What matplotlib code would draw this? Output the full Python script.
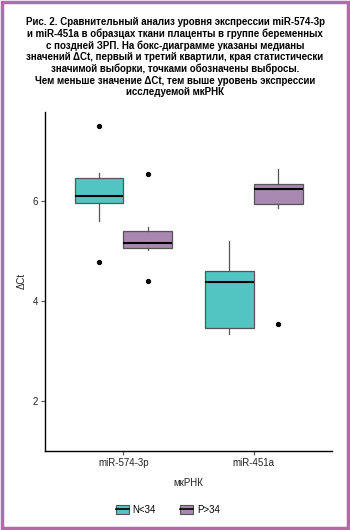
import matplotlib
matplotlib.use("Agg")
import matplotlib.pyplot as plt
from matplotlib.patches import Patch, Rectangle
from matplotlib.lines import Line2D
from matplotlib.legend_handler import HandlerTuple

plt.rcParams['font.family'] = ['Liberation Sans', 'DejaVu Sans']

# data
categories = ["miR-574-3p", "miR-451a"]
groups = ["N<34", "P>34"]
colors = ["#52c5c3", "#a887b0"]

# order: (miR-574-3p N, miR-574-3p P, miR-451a N, miR-451a P)
q1 = [5.95, 5.05, 3.46, 5.93]
med = [6.10, 5.16, 4.37, 6.23]
q3 = [6.45, 5.40, 4.59, 6.34]
whislo = [5.60, 5.01, 3.33, 5.86]
whishi = [6.56, 5.48, 5.20, 6.63]
fliers = [[7.50, 4.78], [6.53, 4.39], [], [3.53]]

title = ("Рис. 2. Сравнительный анализ уровня экспрессии miR-574-3p\n"
         "и miR-451a в образцах ткани плаценты в группе беременных\n"
         "с поздней ЗРП. На бокс-диаграмме указаны медианы\n"
         "значений ΔCt, первый и третий квартили, края статистически\n"
         "значимой выборки, точками обозначены выбросы.\n"
         "Чем меньше значение ΔCt, тем выше уровень экспрессии\n"
         "исследуемой мкРНК")

fig = plt.figure(figsize=(3.5, 5.3), dpi=100)
ax = fig.add_axes([0.129, 0.149, 0.82, 0.64])

stats = []
positions = []
box_colors = []
for i in range(len(categories)):
    for j in range(len(groups)):
        k = i * len(groups) + j
        stats.append(dict(med=med[k], q1=q1[k], q3=q3[k],
                          whislo=whislo[k], whishi=whishi[k], fliers=fliers[k]))
        positions.append(i + 1 + (j - 0.5) * 0.375)
        box_colors.append(colors[j])

bp = ax.bxp(stats, positions=positions, widths=0.375, patch_artist=True,
            showcaps=False,
            boxprops=dict(edgecolor="#555555", linewidth=0.9),
            whiskerprops=dict(color="#555555", linewidth=0.9),
            medianprops=dict(color="black", linewidth=1.5),
            flierprops=dict(marker="o", markerfacecolor="black",
                            markeredgecolor="black", markersize=2.8))
for patch, c in zip(bp["boxes"], box_colors):
    patch.set_facecolor(c)

ax.set_xlim(0.4, 2.6)
ax.set_ylim(1.0, 7.78)
ax.set_xticks([1, 2])
ax.set_xticklabels(categories)
ax.set_yticks([2, 4, 6])
for s in ["top", "right"]:
    ax.spines[s].set_visible(False)
for s in ["left", "bottom"]:
    ax.spines[s].set_linewidth(1.0)
ax.tick_params(axis="both", labelsize=7, length=3, color="#555555",
               labelcolor="#222222", pad=2)
ax.set_ylabel("ΔCt", fontsize=7, color="#222222", labelpad=4)
ax.set_xlabel("мкРНК", fontsize=7, color="#222222", labelpad=7)

handles = []
for c in colors:
    handles.append((Patch(facecolor=c, edgecolor="#555555", linewidth=0.8),
                    Line2D([], [], color="black", linewidth=1.2)))
ax.legend(handles, groups, handler_map={tuple: HandlerTuple(ndivide=1, pad=0)},
          loc="center", bbox_to_anchor=(0.48, 0.038), bbox_transform=fig.transFigure,
          ncol=2, frameon=False, fontsize=7, handlelength=1.3, handleheight=0.9,
          columnspacing=2.5, handletextpad=0.4)

fig.text(0.5, 0.968, title, ha="center", va="top", fontsize=7,
         fontweight="bold", linespacing=1.17)

fig.patches.append(Rectangle((0.006, 0.004), 0.988, 0.992, transform=fig.transFigure,
                             fill=False, edgecolor="#b469a8", linewidth=2.5))

fig.savefig("out.png", dpi=100)
